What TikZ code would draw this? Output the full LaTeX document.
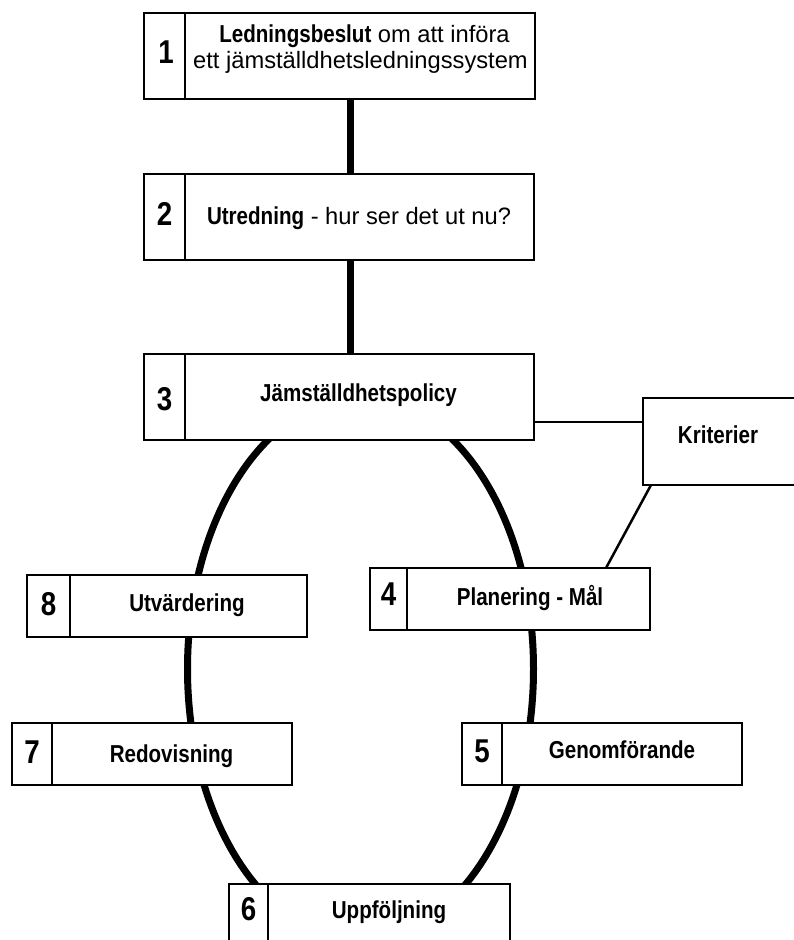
\documentclass[tikz,border=0pt]{standalone}
\usepackage{fontspec}
\setmainfont{Liberation Sans}
\newfontfamily\cb[FakeStretch=0.84]{Liberation Sans}
\usetikzlibrary{calc}
\tikzset{
  box/.style={draw=black, line width=1.7pt, fill=white, rectangle, inner sep=0pt, outer sep=0pt},
  divider/.style={draw=black, line width=1.7pt},
  numtxt/.style={inner sep=0pt, anchor=base, font=\cb\bfseries\fontsize{33}{35}\selectfont},
  labtxt/.style={inner sep=0pt, anchor=base, font=\cb\bfseries\fontsize{24.5}{26}\selectfont},
  regtxt/.style={inner sep=0pt, anchor=base, font=\fontsize{23.7}{26}\selectfont},
  stem/.style={line width=7pt},
  cycleline/.style={line width=7pt},
  thinlink/.style={line width=2.5pt}
}
\begin{document}
\begin{tikzpicture}[x=1pt,y=-1pt]
\useasboundingbox (0,0) rectangle (794,940);
\clip (0,0) rectangle (794,940);
\fill[white] (0,0) rectangle (794,940);

% cycle
\draw[cycleline] (360.5,669) ellipse [x radius=173, y radius=271];

% boxes
\node[box, minimum width=391, minimum height=86] (b1) at (339.5,56) {};
\node[box, minimum width=390, minimum height=86] (b2) at (339,217) {};
\node[box, minimum width=390, minimum height=86] (b3) at (339,397) {};
\node[box, minimum width=280, minimum height=62] (b4) at (510,599) {};
\node[box, minimum width=280, minimum height=62] (b5) at (602,754) {};
\node[box, minimum width=281, minimum height=62] (b6) at (369.5,915) {};
\node[box, minimum width=280, minimum height=62] (b7) at (152,754) {};
\node[box, minimum width=280, minimum height=62] (b8) at (167,606) {};
\node[box, minimum width=160, minimum height=87] (k) at (723,441.5) {};

% dividers
\coordinate (d1) at (185,0);
\coordinate (d4) at (407,0);
\coordinate (d5) at (502,0);
\coordinate (d6) at (268,0);
\coordinate (d7) at (52,0);
\coordinate (d8) at (70,0);
\draw[divider] (b1.north -| d1) -- (b1.south -| d1);
\draw[divider] (b2.north -| d1) -- (b2.south -| d1);
\draw[divider] (b3.north -| d1) -- (b3.south -| d1);
\draw[divider] (b4.north -| d4) -- (b4.south -| d4);
\draw[divider] (b5.north -| d5) -- (b5.south -| d5);
\draw[divider] (b6.north -| d6) -- (b6.south -| d6);
\draw[divider] (b7.north -| d7) -- (b7.south -| d7);
\draw[divider] (b8.north -| d8) -- (b8.south -| d8);

% stems
\coordinate (s) at (350,0);
\draw[stem] (b1.south -| s) -- (b2.north -| s);
\draw[stem] (b2.south -| s) -- (b3.north -| s);

% links to Kriterier
\coordinate (ka) at ($(b3.south east)!0.21!(b3.north east)$);
\draw[thinlink] (ka) -- (k.west |- ka);
\draw[thinlink] ($(k.south west)+(8,0)$) -- ($(b4.north east)+(-44,0)$);

% numbers
\node[numtxt] (n1) at (166,63) {1};
\node[numtxt] (n2) at (164.5,225) {2};
\node[numtxt] (n3) at (164.5,410) {3};
\node[numtxt] (n4) at (388.5,605) {4};
\node[numtxt] (n5) at (482,762) {5};
\node[numtxt] (n6) at (248.5,920) {6};
\node[numtxt] (n7) at (32,763) {7};
\node[numtxt] (n8) at (48.5,615) {8};

% labels
\node[regtxt] (t1a) at (364.5,42) {{\cb\bfseries\fontsize{24.5}{26}\selectfont Ledningsbeslut} om att införa};
\node[regtxt] (t1b) at (360.5,68) {ett jämställdhetsledningssystem};
\node[regtxt] (t2) at (359,224) {{\cb\bfseries\fontsize{24.5}{26}\selectfont Utredning} - hur ser det ut nu?};
\node[labtxt] (t3) at (358.5,401) {Jämställdhetspolicy};
\node[labtxt] (t4) at (530,605) {Planering - Mål};
\node[labtxt] (t5) at (622,758) {Genomförande};
\node[labtxt] (t6) at (389,918) {Uppföljning};
\node[labtxt] (t7) at (171.5,762) {Redovisning};
\node[labtxt] (t8) at (187,611) {Utvärdering};
\node[labtxt] (tk) at (718,443) {Kriterier};
\end{tikzpicture}
\end{document}
